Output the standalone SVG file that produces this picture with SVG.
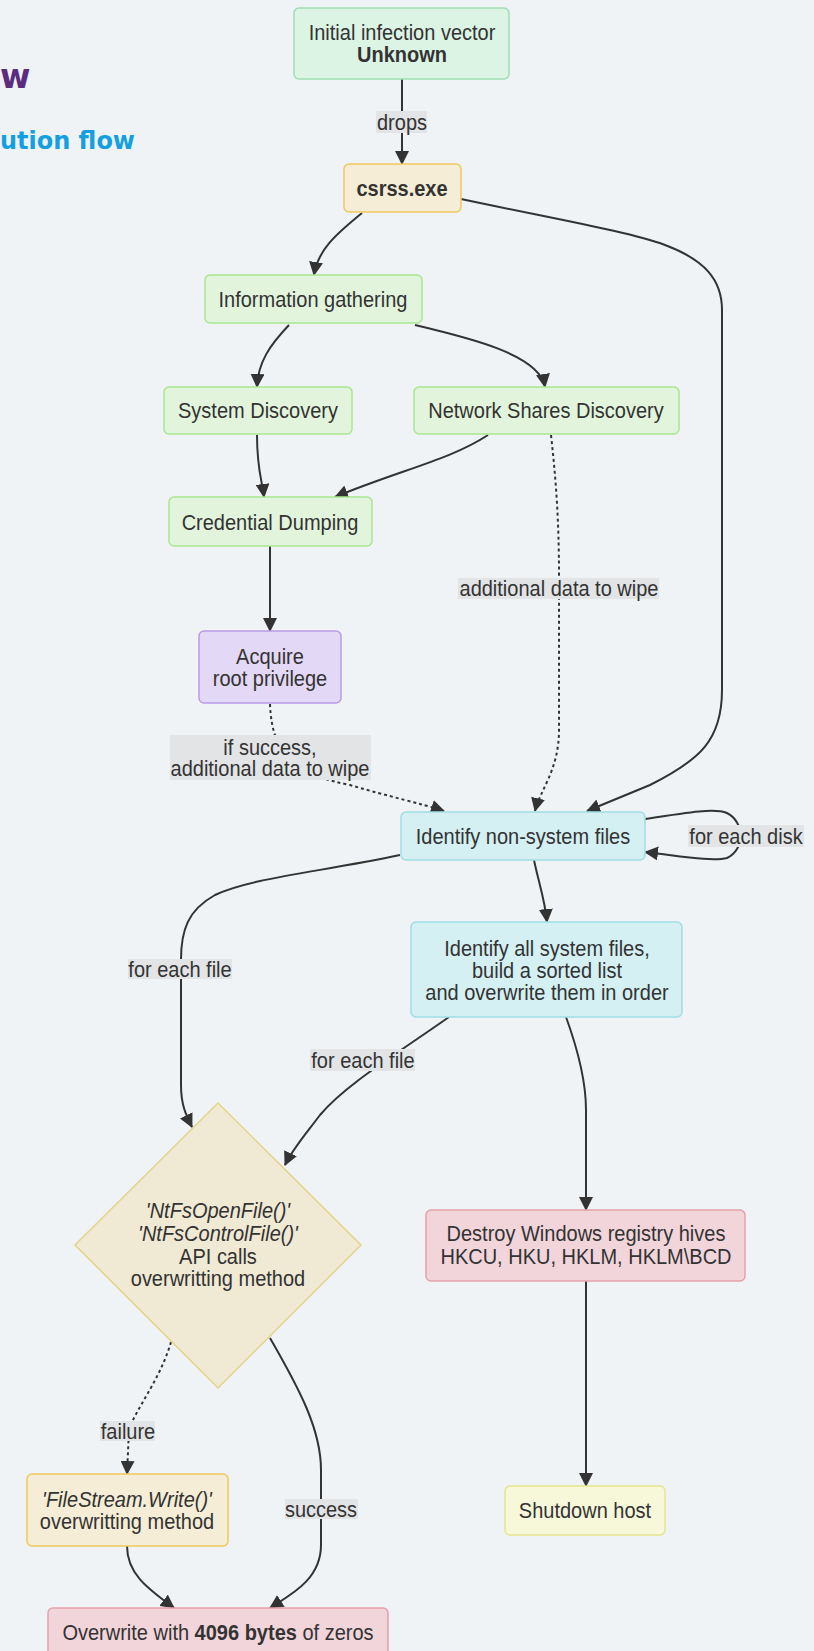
<svg xmlns="http://www.w3.org/2000/svg" width="814" height="1651" viewBox="0 0 814 1651">
  <style>
    .bg { fill: #eff3f6; }
    .t { font-family: "Liberation Sans", Arial, sans-serif; font-size: 20px; fill: #333; text-anchor: middle; dominant-baseline: central; transform-box: fill-box; transform-origin: center; transform: scaleY(1.1); }
    .b { font-weight: bold; }
    .i { font-style: italic; }
    .title { font-family: "DejaVu Sans", sans-serif; font-weight: bold; }
    .mint { fill: #dcf4e4; stroke: #9fdfb2; stroke-width: 1.5; }
    .gold { fill: #f5edd5; stroke: #efc95e; stroke-width: 1.5; }
    .green { fill: #e2f5dc; stroke: #a9e68f; stroke-width: 1.5; }
    .violet { fill: #e3d8f5; stroke: #b99ae8; stroke-width: 1.5; }
    .cyan { fill: #d4f0f3; stroke: #a0dde4; stroke-width: 1.5; }
    .sand { fill: #f0e9d3; stroke: #e5d38a; stroke-width: 1.5; }
    .rose { fill: #f2d5da; stroke: #e6a0aa; stroke-width: 1.5; }
    .lemon { fill: #f7f7d9; stroke: #e6e68f; stroke-width: 1.5; }
    .edge { fill: none; stroke: #333; stroke-width: 2; marker-end: url(#arrow); }
    .dot { stroke-dasharray: 3 3; }
    .lblbg { fill: #e2e4e6; }
  </style>
  <defs>
    <marker id="arrow" viewBox="0 0 14 14" refX="13" refY="7" markerWidth="14" markerHeight="14" markerUnits="userSpaceOnUse" orient="auto">
      <path d="M0,0 L14,7 L0,14 z" fill="#333"/>
    </marker>
  </defs>

  <rect class="bg" x="0" y="0" width="814" height="1651"/>

  <!-- heading fragments at the left edge -->
  <g id="heading">
    <text class="title" x="0" y="88" font-size="33" fill="#5c2d7f">w</text>
    <text class="title" x="0" y="149" font-size="25" fill="#14a0e0" textLength="135" lengthAdjust="spacingAndGlyphs">ution flow</text>
  </g>

  <!-- connectors -->
  <g id="connectors">
    <path class="edge" d="M402,79 L402,164"/>
    <path class="edge" d="M362,213 C335,235 318,250 314,275"/>
    <path class="edge" d="M461,199 C560,220 630,232 665,245 C705,260 722,280 722,310 L722,690 C722,740 700,760 650,785 L587,811"/>
    <path class="edge" d="M289,325 C270,345 258,362 257,387"/>
    <path class="edge" d="M415,325 C470,338 540,355 545,387"/>
    <path class="edge" d="M257,435 C257,470 262,480 264,497"/>
    <path class="edge" d="M488,435 C450,460 400,470 335,497"/>
    <path class="edge dot" d="M551,435 C556,480 559,520 559,577 L559,730 C559,770 540,790 535,811"/>
    <path class="edge" d="M270,546 L270,631"/>
    <path class="edge dot" d="M270,704 C272,760 300,775 350,785 C390,797 420,803 444,811"/>
    <path class="edge" d="M645,819 C690,812 715,808 727,813 C745,822 745,850 727,858 C712,862 680,856 645,852"/>
    <path class="edge" d="M400,855 C320,872 250,878 215,895 C188,910 181,930 181,960 L181,1085 C181,1105 186,1115 192,1127"/>
    <path class="edge" d="M534,860 C538,880 545,900 547,922"/>
    <path class="edge" d="M449,1017 C395,1055 345,1085 320,1115 C305,1135 292,1150 285,1165"/>
    <path class="edge" d="M566,1017 C578,1050 586,1080 586,1110 L586,1210"/>
    <path class="edge" d="M586,1281 L586,1486"/>
    <path class="edge dot" d="M171,1342 C160,1380 135,1410 129,1430 L127,1474"/>
    <path class="edge" d="M270,1338 C300,1390 321,1430 321,1470 L321,1545 C321,1580 290,1595 270,1608"/>
    <path class="edge" d="M127,1546 C127,1575 150,1590 174,1608"/>

    <!-- connector labels -->
    <rect class="lblbg" x="376" y="111" width="51" height="22"/>
    <text class="t" x="402" y="122">drops</text>
    <rect class="lblbg" x="458" y="578" width="201" height="21"/>
    <text class="t" x="559" y="588">additional data to wipe</text>
    <rect class="lblbg" x="170" y="735" width="201" height="45"/>
    <text class="t" x="270" y="747">if success,</text>
    <text class="t" x="270" y="768">additional data to wipe</text>
    <rect class="lblbg" x="688" y="825" width="116" height="22"/>
    <text class="t" x="746" y="836">for each disk</text>
    <rect class="lblbg" x="128" y="959" width="104" height="20"/>
    <text class="t" x="180" y="969">for each file</text>
    <rect class="lblbg" x="310" y="1049" width="105" height="22"/>
    <text class="t" x="363" y="1060">for each file</text>
    <rect class="lblbg" x="100" y="1421" width="55" height="20"/>
    <text class="t" x="128" y="1431">failure</text>
    <rect class="lblbg" x="285" y="1499" width="73" height="20"/>
    <text class="t" x="321" y="1509">success</text>
  </g>

  <!-- nodes -->
  <g id="initial-vector">
    <rect class="mint" x="294" y="8" width="215" height="71" rx="5"/>
    <text class="t" x="402" y="32">Initial infection vector</text>
    <text class="t b" x="402" y="54">Unknown</text>
  </g>
  <g id="csrss">
    <rect class="gold" x="344" y="164" width="117" height="48" rx="5"/>
    <text class="t b" x="402" y="188">csrss.exe</text>
  </g>
  <g id="info-gathering">
    <rect class="green" x="205" y="275" width="217" height="48" rx="5"/>
    <text class="t" x="313" y="299">Information gathering</text>
  </g>
  <g id="system-discovery">
    <rect class="green" x="164" y="387" width="188" height="47" rx="5"/>
    <text class="t" x="258" y="410">System Discovery</text>
  </g>
  <g id="network-shares">
    <rect class="green" x="414" y="387" width="265" height="47" rx="5"/>
    <text class="t" x="546" y="410">Network Shares Discovery</text>
  </g>
  <g id="credential-dumping">
    <rect class="green" x="169" y="497" width="203" height="49" rx="5"/>
    <text class="t" x="270" y="522">Credential Dumping</text>
  </g>
  <g id="root-privilege">
    <rect class="violet" x="199" y="631" width="142" height="72" rx="5"/>
    <text class="t" x="270" y="656">Acquire</text>
    <text class="t" x="270" y="678">root privilege</text>
  </g>
  <g id="non-system-files">
    <rect class="cyan" x="401" y="812" width="244" height="48" rx="5"/>
    <text class="t" x="523" y="836">Identify non-system files</text>
  </g>
  <g id="system-files">
    <rect class="cyan" x="411" y="922" width="271" height="95" rx="5"/>
    <text class="t" x="547" y="948">Identify all system files,</text>
    <text class="t" x="547" y="970">build a sorted list</text>
    <text class="t" x="547" y="992">and overwrite them in order</text>
  </g>
  <g id="ntfs-method">
    <polygon class="sand" points="218,1103 361,1245 218,1388 75,1245"/>
    <text class="t i" x="218" y="1210">'NtFsOpenFile()'</text>
    <text class="t i" x="218" y="1233">'NtFsControlFile()'</text>
    <text class="t" x="218" y="1256">API calls</text>
    <text class="t" x="218" y="1278">overwritting method</text>
  </g>
  <g id="registry-hives">
    <rect class="rose" x="426" y="1210" width="319" height="71" rx="5"/>
    <text class="t" x="586" y="1233">Destroy Windows registry hives</text>
    <text class="t" x="586" y="1256">HKCU, HKU, HKLM, HKLM\BCD</text>
  </g>
  <g id="shutdown">
    <rect class="lemon" x="505" y="1486" width="160" height="49" rx="5"/>
    <text class="t" x="585" y="1510">Shutdown host</text>
  </g>
  <g id="filestream-method">
    <rect class="gold" x="27" y="1474" width="201" height="72" rx="5"/>
    <text class="t i" x="127" y="1499">'FileStream.Write()'</text>
    <text class="t" x="127" y="1521">overwritting method</text>
  </g>
  <g id="zero-overwrite">
    <rect class="rose" x="48" y="1608" width="340" height="52" rx="5"/>
    <text class="t" x="218" y="1632">Overwrite with <tspan class="b">4096 bytes</tspan> of zeros</text>
  </g>
</svg>
